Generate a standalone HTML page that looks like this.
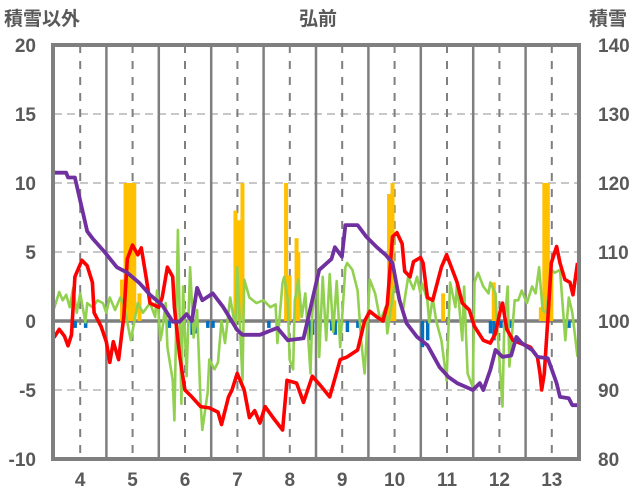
<!DOCTYPE html>
<html><head><meta charset="utf-8">
<style>
html,body{margin:0;padding:0;background:#fff;}
svg{display:block;font-family:"Liberation Sans","Noto Sans CJK JP",sans-serif;}
</style></head>
<body>
<svg id="chart" width="636" height="501" viewBox="0 0 636 501" xmlns="http://www.w3.org/2000/svg">
<text x="318" y="25" text-anchor="middle" font-size="19" font-weight="bold" fill="#595959" font-family="Liberation Sans, Noto Sans CJK JP, sans-serif">弘前</text>
<text x="4" y="25" font-size="19" font-weight="bold" fill="#595959" font-family="Liberation Sans, Noto Sans CJK JP, sans-serif">積雪以外</text>
<text x="589" y="25" font-size="19" font-weight="bold" fill="#595959" font-family="Liberation Sans, Noto Sans CJK JP, sans-serif">積雪</text>
<g id="grid"></g><g id="bars"></g><g id="lines"></g><g id="frame"></g><g id="labels"></g>
</svg>
<script>
const leftTicks=[-10,-5,0,5,10,15,20];
const rightTicks=[80,90,100,110,120,130,140];
const monthLabels=["4","5","6","7","8","9","10","11","12","13"];
const snowDays=[0,7,8,12,19,22,29,36,42,49,55,62,68,72,76,79,82,85,91,97,105,108,118,128,134,143,147,152,159,161,165,167,174,179,185,190,194,198,202,208,214,221,226,231,240,244,246,250,253,257,262,265,268,274,277,283,288,290,295,297,300];
const snowVals=[121.5,121.5,120.8,120.8,113,112,110,107.8,107,105.5,103.8,102.3,99.9,99.9,101,100,104.8,103,104,102,98.7,98,98,99,97.2,97.5,101.9,107.4,109,110.7,109.3,113.9,113.9,112.2,110.7,109.6,108.4,103,99.7,97.7,96.5,93.3,91.9,91,90,91,90,92.9,95.8,94.8,95,97.7,96.8,95.8,94.8,94.6,91,89,88.8,87.8,87.8];
const tempDays=[0,3,6,8,10,12,16,19,22,23,27,30,32,34,37,40,42,45,48,50,53,55,60,62,65,68,69,72,75,79,84,89,94,96,100,102,105,109,112,115,118,121,125.5,131,133.5,139,143,148,153.5,158,164,168,174,178,181,185,188.5,191,194,196.5,199.5,201,204,206,210,211.5,214,217,222,225,228,231,234,238,241,246,250,253,255.5,257,259.5,263,267,273,277,278.5,279.5,281,283,285,288,290,292.8,295.7,297.4,300];
const tempVals=[-1.2,-0.6,-1.1,-1.8,-1,3.2,4.4,4,2.8,0.6,-0.4,-1.5,-3,-1.5,-2.8,0.3,4.5,5.5,4.8,5.3,3,1.3,1,1.7,3.9,3.2,1,-2.5,-5,-5.5,-6.2,-6.3,-6.6,-7.5,-5.5,-5,-3.8,-5,-7,-6.5,-7.4,-6.2,-7,-7.9,-4.3,-4.5,-5.9,-4,-4.8,-5.5,-2.8,-2.6,-2.1,0,0.7,0.3,0,1.2,6.1,6.4,5.6,3.6,3.2,4.3,4.6,4.2,1.7,1.5,3.9,4.8,3.8,2.8,1.3,0.8,-0.4,-1.4,-1.6,-0.9,0.6,1.3,-0.6,-1.4,-1.6,-1.9,-2.6,-3.8,-5,-3.8,0.1,4.2,5.4,4.2,3,2.8,1.9,4.2];
const diffDays=[0,3,5,7,9,11,13,15,18,19,22,25,28,30,32,35,38,40,44,48,51,55,58,59,61,62,64,65,68,69,71,73,74,76,78,80,82,84,85,88,89,92,94,96,98,101,104,105,108,109,112,116,120,124,127,128,131,132,134,135,137,138,140,142,144,147,148,151,152,154,156,158,160,162,164,167,168,171,174,176,178,181,184,187,190,191,194,195,198,200,203,206,208,210,211,214,215,217,219,222,225,227,230,231,234,235,237,240,241,243,246,249,250,253,254,257,258,260,261,264,266,268,271,274,276,278,280,282,285,287,290,293,295,297,300];
const diffVals=[0.9,2.1,1.5,1.9,1,2.4,0.6,2,-0.1,1.3,1,1.5,1.3,0.6,1.7,0.8,1.7,1.2,-1.4,1.3,0.6,1.3,0.3,2.2,-1.4,-0.7,1.3,-1.9,-4.3,-7.2,6.6,-6,2.5,-4,3.9,-1.2,0.8,-5.9,-7.9,-5.2,-2.8,-3.5,-3,0,-1.6,1.7,-0.6,3.9,-4.3,3,1.7,1.3,1.5,1,1.2,-1.6,2.8,3.2,1.5,-2.8,-3.5,1.5,3,0.3,2,-3.8,0.6,3.5,-2.6,3.2,-1.4,3.4,-0.8,2.9,-1.9,3.9,4.2,3.7,2.2,-1.4,-3.8,3,2,0,1,-0.9,1.7,2.5,1.7,0.8,3.2,2.3,3.2,2,2.7,1.5,-0.1,1.7,0,-1.4,-4.3,2.8,1,2.8,-1.4,2.5,-3.8,-4.8,2.8,3.5,2.5,2,2.8,2,-0.4,-6.2,-0.4,2.5,-3.3,1.5,1.5,2.2,1.3,2.5,2,3.9,0.8,0.6,3.7,3.5,3.7,-1.4,1.7,0.6,-2.6];
const snowfallDays=[39,41,43,45,46,49,104,106,108,133,135,139,140,192,194,195,223,252,279,281,282,283,285];
const snowfallVals=[3,10,10,10,10,2,8,7.3,10,10,3.3,6,5,9.2,10,1.5,2,2.8,1,10,8.5,10,3.5];
const meltDays=[12,18,66,79,81,88,91,123,146,148,159,161,168,174,211,214,250,252,256,261,295];
const meltVals=[-0.5,-0.5,-0.5,-1,-0.9,-0.5,-0.5,-0.5,-1.4,-1,-0.7,-1,-0.8,-0.5,-1.9,-1.4,-0.9,-1.4,-0.5,-0.5,-0.5];

const NS="http://www.w3.org/2000/svg";
const X0=54,X1=578,Y0=459,Y1=45,DAYS=300.3,MONTH=30.03;
const xs=d=>X0+d/DAYS*(X1-X0)*(300.3/300.3)*(1.745*300.3/(X1-X0));
const yL=v=>Y0-(v+10)/30*(Y0-Y1);
const yR=v=>Y0-(v-80)/60*(Y0-Y1);
const xm=m=>X0+m*(X1-X0)/10;
function mk(tag,attrs,parent){const e=document.createElementNS(NS,tag);for(const k in attrs)e.setAttribute(k,attrs[k]);parent.appendChild(e);return e;}
const grid=document.getElementById('grid'),bars=document.getElementById('bars'),lines=document.getElementById('lines'),frame=document.getElementById('frame'),labels=document.getElementById('labels');
leftTicks.forEach((t,i)=>{
  if(t!==0&&t!==-10&&t!==20){const g=mk('line',{x1:X0,x2:X1,y1:yL(t),y2:yL(t),stroke:'#c8c8c8','stroke-width':2,'stroke-dasharray':'8,5'},grid);
  
  }
  const tl=mk('text',{x:36,y:yL(t)+7,'text-anchor':'end','font-size':19,'font-weight':'bold',fill:'#595959'},labels);tl.textContent=t;
  
  
  const tr=mk('text',{x:598,y:yR(rightTicks[i])+7,'font-size':19,'font-weight':'bold',fill:'#595959'},labels);tr.textContent=rightTicks[i];
  
  
});
for(let k=1;k<10;k++){const l=mk('line',{x1:xm(k),x2:xm(k),y1:Y1,y2:Y0,stroke:'#7f7f7f','stroke-width':2.5},grid);
  
  }
monthLabels.forEach((m,k)=>{const x=xm(k+0.5);
  const l=mk('line',{x1:x,x2:x,y1:Y1,y2:Y0,stroke:'#7f7f7f','stroke-width':2,'stroke-dasharray':'8,8'},grid);
  
  
  const t=mk('text',{x:x,y:486,'text-anchor':'middle','font-size':19,'font-weight':'bold',fill:'#595959'},labels);t.textContent=m;
  
  });
const px=d=>X0+d*1.745;
snowfallDays.forEach((d,i)=>{const y=yL(snowfallVals[i]);const r=mk('rect',{x:px(d)-2,y:y,width:4,height:yL(0)-y,fill:'#ffc000'},bars);
  
  });
meltDays.forEach((d,i)=>{const r=mk('rect',{x:px(d)-1.5,y:yL(0),width:3.5,height:yL(meltVals[i])-yL(0),fill:'#0070c0'},bars);
  
  });
const zl=mk('line',{x1:X0,x2:X1,y1:yL(0),y2:yL(0),stroke:'#7f7f7f','stroke-width':3.5},grid);


function path(days,vals,yf){return days.map((d,i)=>(i?'L':'M')+px(d).toFixed(1)+','+yf(vals[i]).toFixed(1)).join('');}
const g1=mk('path',{d:path(diffDays,diffVals,yL),fill:'none',stroke:'#92d050','stroke-width':2.6,'stroke-linejoin':'round'},lines);


const r1=mk('path',{d:path(tempDays,tempVals,yL),fill:'none',stroke:'#ff0000','stroke-width':3.6,'stroke-linejoin':'round'},lines);


const p1=mk('path',{d:path(snowDays,snowVals,yR),fill:'none',stroke:'#7030a0','stroke-width':3.8,'stroke-linejoin':'round'},lines);


const fr=mk('rect',{x:X0-1,y:Y1,width:X1-X0+2,height:Y0-Y1,fill:'none',stroke:'#7f7f7f','stroke-width':4},frame);


</script>
</body></html>
